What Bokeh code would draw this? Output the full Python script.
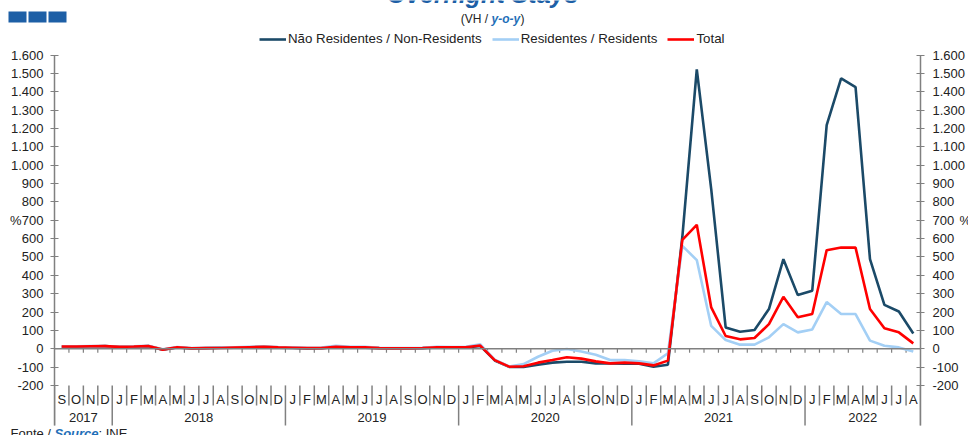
from bokeh.plotting import figure
from bokeh.models import (Range1d, LinearAxis, FixedTicker, Span, Legend, LegendItem, Label)
from bokeh.layouts import row
from bokeh.core.properties import value
from bokeh.embed import file_html
from bokeh.resources import INLINE

# ---------------- data ----------------
months = ["S", "O", "N", "D"] + ["J", "F", "M", "A", "M", "J", "J", "A", "S", "O", "N", "D"] * 4 \
    + ["J", "F", "M", "A", "M", "J", "J", "A"]
years = ["2017", "2018", "2019", "2020", "2021", "2022"]
year_start = [0, 4, 16, 28, 40, 52]
year_end = [4, 16, 28, 40, 52, 60]

nonres = [10, 11, 12, 14, 9, 11, 14, -6, 7, 1,
          3, 5, 6, 8, 10, 6, 4, 2, 3, 9,
          7, 6, 3, 2, 2, 3, 7, 6, 7, 15,
          -64, -99, -100, -87, -76, -71, -71, -80, -80, -82,
          -82, -98, -87, 610, 1522, 870, 116, 92, 102, 216,
          488, 292, 316, 1219, 1473, 1426, 488, 239, 203, 83]
res = [13, 13, 14, 15, 11, 13, 16, -3, 9, 4,
       5, 6, 8, 10, 12, 9, 7, 5, 6, 16,
       10, 10, 5, 3, 3, 5, 10, 9, 10, 24,
       -60, -97, -84, -44, -11, -2, -15, -33, -62, -62,
       -69, -80, -25, 560, 483, 124, 47, 22, 22, 62,
       134, 89, 105, 254, 189, 189, 44, 16, 7, -15]
total = [12, 12, 13, 14, 10, 12, 15, -5, 8, 2,
         3, 4, 6, 8, 10, 7, 5, 3, 3, 10,
         8, 7, 3, 2, 2, 4, 8, 7, 8, 17,
         -62, -98, -96, -76, -62, -47, -54, -69, -80, -76,
         -80, -91, -65, 593, 675, 225, 69, 51, 58, 134,
         283, 171, 189, 537, 551, 551, 216, 111, 89, 29]

y_ticks = list(range(-200, 1601, 100))
y_tick_labels = {t: f"{t:,}".replace(",", ".") for t in y_ticks}

series_names = ["Não Residentes / Non-Residents", "Residentes / Residents", "Total"]
series_colors = ["#1b4a68", "#a3cff5", "#ff0000"]

# ---------------- layout helpers (page px -> data, for annotations only) ----------------
W, H = 968, 435
FRAME_L, FRAME_R = 54.0, 920.0
Y0_PX, PX_PER_UNIT = 348.2, 0.1835
N = len(months)


def px_x(px):
    return (px - FRAME_L) / (FRAME_R - FRAME_L) * N


def px_y(py):
    return (Y0_PX - py) / PX_PER_UNIT


FONT = "Liberation Sans"
GREY = "#808080"
TXT = "#222222"
BLUE_TXT = "#1f6fb8"

p = figure(width=W, height=H, output_backend="svg", toolbar_location=None,
           x_range=Range1d(0, N), y_range=Range1d(px_y(H), px_y(0)),
           min_border_left=int(FRAME_L), min_border_right=int(W - FRAME_R),
           min_border_top=0, min_border_bottom=0)
p.outline_line_color = None
p.xaxis.visible = False
p.grid.visible = False
p.background_fill_color = "white"
p.border_fill_color = "white"

right_axis = LinearAxis()
p.add_layout(right_axis, "right")

for ax, standoff in ((p.yaxis[0], 7), (right_axis, 8)):
    ax.ticker = FixedTicker(ticks=y_ticks)
    ax.bounds = (px_y(425), 1600)
    ax.major_label_overrides = y_tick_labels
    ax.axis_line_color = GREY
    ax.axis_line_width = 1.5
    ax.major_tick_line_color = GREY
    ax.major_tick_line_width = 1.2
    ax.major_tick_in = 4
    ax.major_tick_out = 4
    ax.minor_tick_line_color = None
    ax.major_label_text_font = FONT
    ax.major_label_text_font_size = "13px"
    ax.major_label_text_color = TXT
    ax.major_label_standoff = standoff

# zero line with month ticks
p.add_layout(Span(location=0, dimension="width", line_color=GREY, line_width=1.5))
inner_b = list(range(1, N))
p.segment(x0=inner_b, y0=[0] * len(inner_b), x1=inner_b, y1=[-22] * len(inner_b),
          line_color=GREY, line_width=1.2)

# category axis below
month_b = [b for b in range(0, N + 1) if b not in year_start + [N]]
p.segment(x0=month_b, y0=[-200] * len(month_b), x1=month_b, y1=[px_y(405)] * len(month_b),
          line_color=GREY, line_width=1.5)
year_b = year_start + [N]
p.segment(x0=year_b, y0=[-200] * len(year_b), x1=year_b, y1=[px_y(425)] * len(year_b),
          line_color=GREY, line_width=1.5)

xs = [i + 0.5 for i in range(N)]
p.text(x=xs, y=[px_y(399)] * N, text=months, text_font=value(FONT), text_font_size="13px",
       text_align="center", text_baseline="middle", text_color=TXT)
year_x = [(a + b) / 2 for a, b in zip(year_start, year_end)]
p.text(x=year_x, y=[px_y(417)] * len(years), text=years, text_font=value(FONT),
       text_font_size="13px", text_align="center", text_baseline="middle", text_color=TXT)

# series
renderers = []
for vals, col in zip([nonres, res, total], series_colors):
    r = p.line(xs, vals, line_color=col, line_width=2.6)
    renderers.append(r)

legend = Legend(items=[LegendItem(label=n, renderers=[r]) for n, r in zip(series_names, renderers)],
                orientation="horizontal",
                location=(259 - FRAME_L, H - 46))
legend.border_line_color = None
legend.background_fill_alpha = 0
legend.label_text_font = FONT
legend.label_text_font_size = "13.3px"
legend.label_text_color = TXT
legend.glyph_width = 27
legend.glyph_height = 14
legend.label_standoff = 2
legend.spacing = 10
legend.padding = 2
legend.margin = 0
p.add_layout(legend, "center")

# subtitle
p.add_layout(Label(x=px_x(491), y=px_y(18), text="(VH / ", text_font=FONT, text_font_size="12px",
                   text_align="right", text_baseline="middle", text_color=TXT))
p.add_layout(Label(x=px_x(491), y=px_y(18), text="y-o-y", text_font=FONT, text_font_size="12px",
                   text_font_style="bold italic", text_align="left", text_baseline="middle",
                   text_color=BLUE_TXT))
p.add_layout(Label(x=px_x(520), y=px_y(18), text=")", text_font=FONT, text_font_size="12px",
                   text_align="left", text_baseline="middle", text_color=TXT))

# ---------------- overlay for the items that sit outside the plot frame ----------------
ov = figure(width=W, height=H, output_backend="svg", toolbar_location=None,
            x_range=Range1d(0, W), y_range=Range1d(H, 0),
            x_axis_location=None, y_axis_location=None,
            min_border=0, min_border_left=0, min_border_right=0,
            min_border_top=0, min_border_bottom=0,
            styles={"position": "absolute", "left": "0px", "top": "0px"})
ov.outline_line_color = None
ov.background_fill_color = None
ov.border_fill_color = None
ov.grid.visible = False

# title (cut off at the top edge, as in the reference)
ov.text(x=[482], y=[-7], text=["Overnight Stays"], text_font=value(FONT), text_font_size="25px",
        text_font_style="bold italic", text_align="center", text_baseline="alphabetic",
        text_color="#1d5fa6")

# logo squares
ov.quad(left=[8, 28, 48], right=[26, 46, 66], top=[11, 11, 11], bottom=[22, 22, 22],
        fill_color="#1d5fa6", line_color=None)

# "%" axis titles
y700 = Y0_PX - 700 * PX_PER_UNIT
ov.text(x=[21], y=[y700], text=["%"], text_font=value(FONT), text_font_size="13px",
        text_align="right", text_baseline="middle", text_color=TXT)
ov.text(x=[959], y=[y700], text=["%"], text_font=value(FONT), text_font_size="13px",
        text_align="left", text_baseline="middle", text_color=TXT)

# source
ov.text(x=[10], y=[425], text=["Fonte / "], text_font=value(FONT), text_font_size="13px",
        text_align="left", text_baseline="top", text_color=TXT)
ov.text(x=[54], y=[425], text=["Source"], text_font=value(FONT), text_font_size="13px",
        text_font_style="bold italic", text_align="left", text_baseline="top", text_color=BLUE_TXT)
ov.text(x=[98], y=[425], text=[": INE"], text_font=value(FONT), text_font_size="13px",
        text_align="left", text_baseline="top", text_color=TXT)

layout = row(p, ov, spacing=0)
open("out.html", "w").write(file_html(layout, INLINE))
